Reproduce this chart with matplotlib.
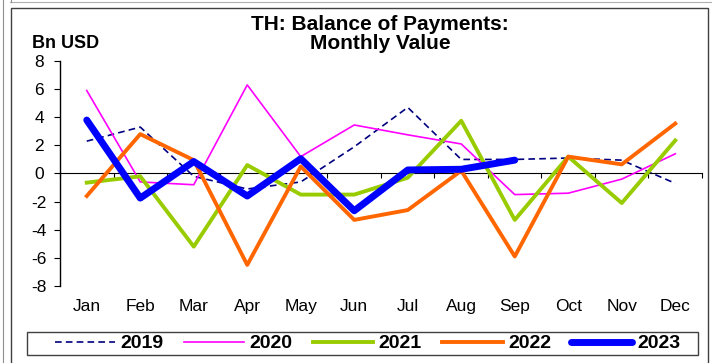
"""TH balance of payments, monthly value by year (line chart)"""

import matplotlib
matplotlib.use("Agg")
import matplotlib.pyplot as plt
from matplotlib.patches import Rectangle
from matplotlib.lines import Line2D

plt.rcParams["font.family"] = ["Liberation Sans", "DejaVu Sans"]
plt.rcParams["axes.unicode_minus"] = False

months = ["Jan", "Feb", "Mar", "Apr", "May", "Jun",
          "Jul", "Aug", "Sep", "Oct", "Nov", "Dec"]

bop_2019 = [2.3, 3.3, -0.2, -1.1, -0.6, 1.9, 4.7, 1.0, 1.0, 1.1, 0.95, -0.7]
bop_2020 = [5.9, -0.6, -0.8, 6.3, 1.2, 3.45, 2.75, 2.1, -1.5, -1.4, -0.4, 1.4]
bop_2021 = [-0.65, -0.2, -5.2, 0.6, -1.5, -1.5, -0.3, 3.75, -3.3, 1.2, -2.1, 2.35]
bop_2022 = [-1.6, 2.8, 0.95, -6.5, 0.5, -3.3, -2.6, 0.2, -5.9, 1.2, 0.65, 3.55]
bop_2023 = [3.8, -1.75, 0.85, -1.6, 1.05, -2.65, 0.25, 0.3, 0.95]

W, H = 712, 363
fig = plt.figure(figsize=(W / 100, H / 100), dpi=100)
ax = fig.add_axes([60 / W, 1 - 286 / H, (702 - 60) / W, (286 - 61) / H])

x = list(range(len(months)))
ax.plot(x, bop_2019, color="#000080", lw=1.2, ls=(0, (4, 2.5)), label="2019")
ax.plot(x, bop_2020, color="#FF00FF", lw=1.2, label="2020")
ax.plot(x, bop_2021, color="#99CC00", lw=2.8, label="2021")
ax.plot(x, bop_2022, color="#FF6600", lw=2.8, label="2022")
ax.plot(list(range(len(bop_2023))), bop_2023, color="#0000FF", lw=5,
        solid_capstyle="round", label="2023")

ax.set_xlim(-0.5, 11.5)
ax.set_ylim(-8, 8)
ax.set_yticks(range(-8, 9, 2))
ax.set_xticks(x)
ax.set_xticklabels(months)
ax.tick_params(axis="x", length=0, pad=9.5, labelsize=12.5)
ax.tick_params(axis="y", direction="out", length=4.5, width=0.8, pad=10.5, labelsize=12.5)
for lab in ax.get_yticklabels():
    lab.set_ha("center")

for side in ("top", "right", "bottom"):
    ax.spines[side].set_visible(False)
ax.spines["left"].set_linewidth(1.0)

# zero line with category separators
zero = ax.secondary_xaxis(0.5)
zero.set_xticks([i - 0.5 for i in range(13)])
zero.set_xticklabels([])
zero.tick_params(direction="in", length=3.5, width=0.8)
zero.spines["bottom"].set_linewidth(1.0)

fig.text(380 / W, 1 - 15 / H, "TH: Balance of Payments:\nMonthly Value",
         ha="center", va="top", fontsize=15, fontweight="bold", linespacing=1.0)
fig.text(32 / W, 1 - 43 / H, "Bn USD", ha="left", va="center",
         fontsize=13, fontweight="bold")

leg = fig.legend(loc="center", bbox_to_anchor=(367.5 / W, 1 - 343.5 / H),
                 ncol=5, frameon=False, handlelength=3.1, handletextpad=0.28,
                 columnspacing=1.05, prop={"weight": "bold", "size": 14})

# legend box and outer frames
fig.patches.append(Rectangle((27 / W, 1 - 355 / H), (698 - 27) / W, 23 / H,
                             transform=fig.transFigure, fill=False,
                             ec="#404040", lw=1.0))
fig.patches.append(Rectangle((10.5 / W, -0.05), (708 - 10.5) / W, 1 - 8 / H + 0.05,
                             transform=fig.transFigure, fill=False,
                             ec="#404040", lw=1.0))
fig.lines.append(Line2D([3 / W, 3 / W], [0, 1], transform=fig.transFigure,
                        color="#909090", lw=0.8))
fig.lines.append(Line2D([10 / W, 1], [1 - 2 / H, 1 - 2 / H], transform=fig.transFigure,
                        color="#b0b0b0", lw=0.8))
fig.lines.append(Line2D([10.5 / W, 10.5 / W], [1 - 2 / H, 1], transform=fig.transFigure,
                        color="#909090", lw=0.8))

fig.savefig("out.png", dpi=100)
